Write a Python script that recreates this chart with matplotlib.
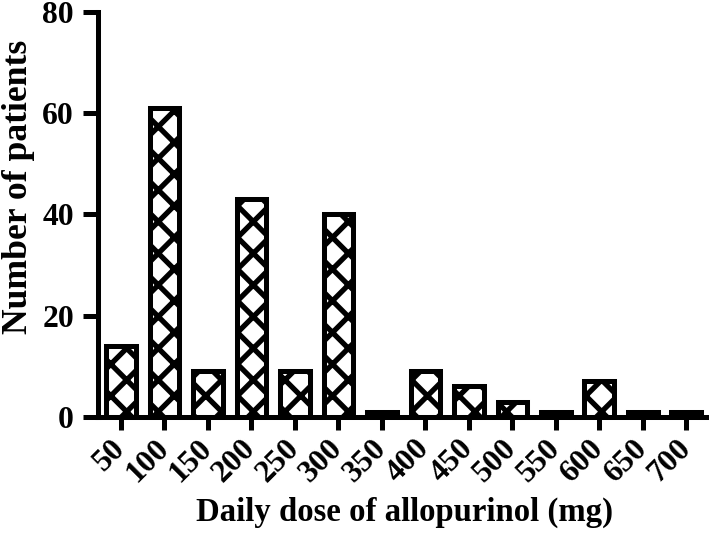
import matplotlib
matplotlib.use("Agg")
import matplotlib.pyplot as plt

# ----------------------------------------------------------------------------------------------------------------------
# Data
# ----------------------------------------------------------------------------------------------------------------------
doses = ["50", "100", "150", "200", "250", "300", "350",
         "400", "450", "500", "550", "600", "650", "700"]
patients = [14, 61, 9, 43, 9, 40, 1, 9, 6, 3, 1, 7, 1, 1]
y_ticks = [0, 20, 40, 60, 80]

# ----------------------------------------------------------------------------------------------------------------------
# Plot settings
# ----------------------------------------------------------------------------------------------------------------------
dpi = 190
line_w = 1.9
tick_fs = 12
plt.rcParams["font.family"] = ["Liberation Serif", "DejaVu Serif"]
plt.rcParams["font.weight"] = "bold"
plt.rcParams["hatch.linewidth"] = 2.0
plt.rcParams["hatch.color"] = "black"

fig = plt.figure(figsize=(709 / dpi, 535 / dpi), dpi=dpi)
ax = fig.add_axes([0.138, 0.221, 0.8606, 0.757])

x = list(range(len(doses)))
ax.bar(x, patients, width=0.68, color="white", edgecolor="black",
       linewidth=line_w, hatch="xx", zorder=2)

ax.set_xlim(-0.53, 13.5)
ax.set_ylim(0, 80)
ax.set_yticks(y_ticks)
ax.set_xticks(x)
ax.set_xticklabels(doses, rotation=45, ha="right", va="center",
                   rotation_mode="anchor", fontsize=tick_fs, fontweight="bold")
ax.set_yticklabels([str(t) for t in y_ticks], fontsize=tick_fs, fontweight="bold")

for side in ["top", "right"]:
    ax.spines[side].set_visible(False)
for side in ["left", "bottom"]:
    ax.spines[side].set_linewidth(line_w)
    ax.spines[side].set_zorder(3)
ax.tick_params(axis="y", length=5.5, width=line_w, pad=3.5)
ax.tick_params(axis="x", length=4.8, width=line_w, pad=5.5)

ax.set_ylabel("Number of patients", fontsize=13.5, fontweight="bold")
ax.yaxis.set_label_coords(-0.103, 0.567)
ax.set_xlabel("Daily dose of allopurinol (mg)", fontsize=12.4, fontweight="bold")
ax.xaxis.set_label_coords(0.502, -0.198)

fig.savefig("out.png", dpi=dpi)
plt.close(fig)
